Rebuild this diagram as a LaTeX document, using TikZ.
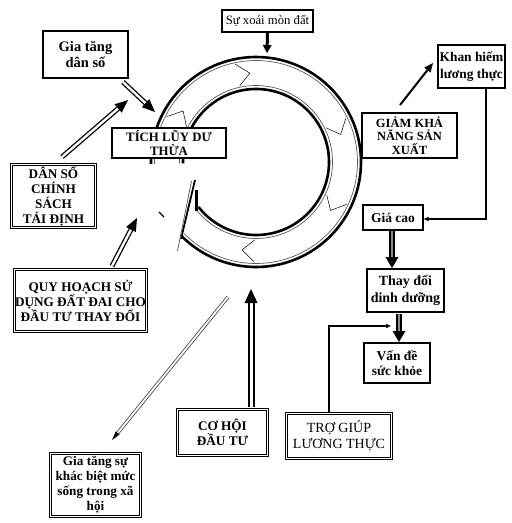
\documentclass[tikz,border=0pt]{standalone}
\usepackage{fontspec}
\setmainfont{Liberation Serif}
\usetikzlibrary{arrows.meta,calc}
\newcommand\headto[4]{%
  \fill let \p1=($(#2)!#3!(#1)$) in (#2) -- ($(\p1)!#4!90:(#2)$) -- ($(\p1)!#4!-90:(#2)$) -- cycle;}
\tikzset{
  sbox/.style={draw=black, line width=1.2pt, fill=white, align=center, inner sep=0pt},
  dbox/.style={draw=black, double=white, double distance=1.6pt, line width=0.9pt, fill=white, align=center, inner sep=0pt},
  fA/.style={font=\bfseries\fontsize{13.2}{15}\selectfont},
  fL/.style={font=\bfseries\fontsize{14.5}{16.5}\selectfont},
  fK/.style={font=\bfseries\fontsize{13.4}{16.5}\selectfont},
  fB/.style={font=\bfseries\fontsize{13.5}{15}\selectfont},
  fT/.style={font=\bfseries\fontsize{12.8}{13.5}\selectfont},
  fC/.style={font=\bfseries\fontsize{12.5}{13.5}\selectfont},
  fR/.style={font=\fontsize{14}{16}\selectfont},
  fD/.style={font=\bfseries\fontsize{14}{17}\selectfont},
  fS/.style={font=\fontsize{12.7}{14}\selectfont},
  dshaft/.style={draw=black, double=white, double distance=2.4pt, line width=1.3pt},
  wshaft/.style={draw=black, double=white, double distance=3pt, line width=2pt},
  tshaft/.style={draw=black!75, double=white, double distance=1.8pt, line width=0.8pt},
  kshaft/.style={draw=black, double=black!45, double distance=1.5pt, line width=1.8pt},
  ring/.style={line width=2.6pt},
  ringthin/.style={line width=0.7pt, draw=black!65},
  chev/.style={line width=0.5pt},
  elbow/.style={line width=1.2pt, -{Triangle[length=5pt,width=4pt]}},
}
\begin{document}
\begin{tikzpicture}[x=1pt,y=-1pt]
\useasboundingbox (0,0) rectangle (512,523);
\fill[white] (0,0) rectangle (512,523);

% ---- ring ----
\coordinate (C) at (256,162);
\draw[ring] ($(C)+(-181:105)$) arc[start angle=-181,end angle=135,radius=105];
\draw[ringthin] ($(C)+(-181:101.5)$) arc[start angle=-181,end angle=135,radius=101.5];
\draw[ring] ($(C)+(-181:73)$) arc[start angle=-181,end angle=142,radius=73];
\draw[ringthin] ($(C)+(-181:76.5)$) arc[start angle=-181,end angle=140,radius=76.5];
\foreach \a in {-153,-102,-26,25,91}
  \draw[chev] ($(C)+(\a:100)$) -- ($(C)+({\a+8}:89)$) -- ($(C)+(\a:78)$);
\draw[line width=1.8pt] (195,180) -- (181,239);
\draw[ringthin] (191.5,181) -- (177.5,251);
\draw[line width=2.5pt] (196.5,190) -- (196.5,211);
\draw[line width=1.4pt] (159,212) -- (164,217);

% ---- nodes ----
\node[sbox, fL, minimum width=85pt, minimum height=47pt] (gds) at (85.5,54.5) {Gia tăng\\dân số};
\node[sbox, fS, minimum width=91pt, minimum height=22pt] (sxmd) at (267.5,21) {Sự xoái mòn đất};
\node[sbox, fT, minimum width=114pt, minimum height=30pt] (tich) at (169,143) {TÍCH LŨY DƯ\\THỪA};
\node[dbox, fA, minimum width=84pt, minimum height=63pt] (danso) at (53.5,196) {DÂN SỐ\\CHÍNH\\SÁCH\\TÁI ĐỊNH};
\node[dbox, fA, minimum width=132pt, minimum height=62pt] (qh) at (80.5,300.5) {QUY HOẠCH SỬ\\DỤNG ĐẤT ĐAI CHO\\ĐẦU TƯ THAY ĐỔI};
\node[dbox, fA, minimum width=90pt, minimum height=46pt] (coh) at (222.5,432.5) {CƠ HỘI\\ĐẦU TƯ};
\node[dbox, fA, minimum width=90pt, minimum height=63pt] (gtsk) at (95.5,485) {Gia tăng sự\\khác biệt mức\\sống trong xã\\hội};
\node[dbox, fR, minimum width=105pt, minimum height=45pt] (trogiup) at (339,436) {TRỢ GIÚP\\LƯƠNG THỰC};
\node[sbox, fB, minimum width=66pt, minimum height=40pt] (vande) at (397,363) {Vấn đề\\sức khỏe};
\node[sbox, fD, minimum width=77pt, minimum height=43pt] (thaydoi) at (405.5,290.5) {Thay đổi\\dinh dưỡng};
\node[sbox, fB, minimum width=60pt, minimum height=25pt] (giacao) at (393,217.5) {Giá cao};
\node[sbox, fK, minimum width=67pt, minimum height=43pt] (khan) at (471.5,66.5) {Khan hiếm\\lương thực};
\node[sbox, fC, minimum width=95pt, minimum height=45pt] (giam) at (409.5,135.5) {GIẢM KHẢ\\NĂNG SẢN\\XUẤT};

% ---- double arrows into the ring ----
\coordinate (a1s) at (123,82);  \coordinate (a1t) at (155,112);
\draw[dshaft] (a1s) -- ($(a1t)!11pt!(a1s)$); \headto{a1s}{a1t}{13pt}{5.5pt}
\coordinate (a2s) at (62,157);  \coordinate (a2t) at (128,100);
\draw[dshaft] (a2s) -- ($(a2t)!11pt!(a2s)$); \headto{a2s}{a2t}{13pt}{5.5pt}
\coordinate (a3s) at (112,266); \coordinate (a3t) at (137,218);
\draw[dshaft] (a3s) -- ($(a3t)!11pt!(a3s)$); \headto{a3s}{a3t}{13pt}{5.5pt}
\coordinate (a4s) at (251,407); \coordinate (a4t) at (251,289);
\draw[wshaft] (a4s) -- ($(a4t)!12pt!(a4s)$); \headto{a4s}{a4t}{14pt}{6.5pt}
\coordinate (a5s) at (228,297); \coordinate (a5t) at (112,440);
\draw[tshaft] (a5s) -- ($(a5t)!7pt!(a5s)$); \headto{a5s}{a5t}{9pt}{2.5pt}

% ---- small thick arrows ----
\coordinate (b1t) at (267,53);
\draw[line width=3pt] (sxmd.south) -- ($(b1t)!6pt!(sxmd.south)$); \headto{sxmd.south}{b1t}{8pt}{4.5pt}
\coordinate (b2t) at (392,268);
\draw[kshaft] (giacao.south -| b2t) -- ($(b2t)!9pt!(giacao.south -| b2t)$); \headto{giacao.south -| b2t}{b2t}{11pt}{6.5pt}
\coordinate (b3t) at (399,342); \coordinate (b3s) at (399,314);
\draw[kshaft] (b3s) -- ($(b3t)!9pt!(b3s)$); \headto{b3s}{b3t}{11pt}{6.5pt}

% ---- line arrows ----
\coordinate (c1s) at (400,105); \coordinate (c1t) at (433,63);
\draw[line width=2pt] (c1s) -- ($(c1t)!7pt!(c1s)$); \headto{c1s}{c1t}{9pt}{4pt}
\coordinate (c2) at (486,219);
\draw[elbow] (khan.south -| c2) -- (c2) -- (giacao.east |- c2);
\coordinate (c3) at (329,326); \coordinate (c3e) at (391,326);
\draw[elbow] (trogiup.north -| c3) -- (c3) -- (c3e);
\end{tikzpicture}
\end{document}
